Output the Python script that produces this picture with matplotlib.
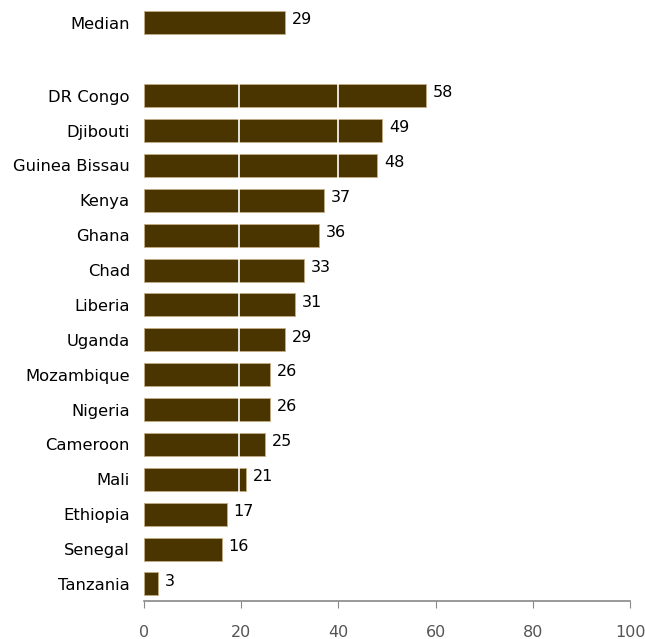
import matplotlib
matplotlib.use("Agg")
import matplotlib.pyplot as plt

countries = ["DR Congo", "Djibouti", "Guinea Bissau", "Kenya", "Ghana", "Chad",
             "Liberia", "Uganda", "Mozambique", "Nigeria", "Cameroon", "Mali",
             "Ethiopia", "Senegal", "Tanzania"]
values = [58, 49, 48, 37, 36, 33, 31, 29, 26, 26, 25, 21, 17, 16, 3]
median_label = "Median"
median_value = 29
xticks = [0, 20, 40, 60, 80, 100]

plt.rcParams['font.family'] = ['DejaVu Sans']
bar_color = "#4a3500"
edge_color = "#c2ad85"

fig = plt.figure(figsize=(6.45, 6.39), dpi=100)
ax = fig.add_axes([0.223, 0.0595, 0.754, 0.9325])

ypos = list(range(len(countries)))
median_y = -2.1

ax.barh(ypos, values, height=0.66, color=bar_color, edgecolor=edge_color, linewidth=0.6, zorder=2)
ax.barh([median_y], [median_value], height=0.66, color=bar_color, edgecolor=edge_color, linewidth=0.6, zorder=2)

# white separators across country bars only
ax.vlines([19.5, 40], -0.4, len(countries) - 0.6, color="white", linewidth=1.2, zorder=3)

for y, v in zip(ypos, values):
    ax.text(v + 1.4, y - 0.08, str(v), va="center", ha="left", fontsize=11.5, color="black")
ax.text(median_value + 1.4, median_y - 0.08, str(median_value), va="center", ha="left", fontsize=11.5, color="black")

ax.set_yticks([median_y] + ypos)
ax.set_yticklabels([median_label] + countries, fontsize=11.8)
ax.tick_params(axis="y", length=0, pad=10)

ax.set_xlim(0, 100)
ax.set_ylim(14.49, -2.6)
ax.set_xticks(xticks)
ax.set_xticklabels([str(t) for t in xticks], fontsize=11.5, color="#555555")
ax.tick_params(axis="x", direction="out", length=5, color="#888888", pad=12)

for s in ["top", "right", "left"]:
    ax.spines[s].set_visible(False)
ax.spines["bottom"].set_color("#888888")
ax.spines["bottom"].set_linewidth(1.2)

fig.savefig("out.png", dpi=100)
